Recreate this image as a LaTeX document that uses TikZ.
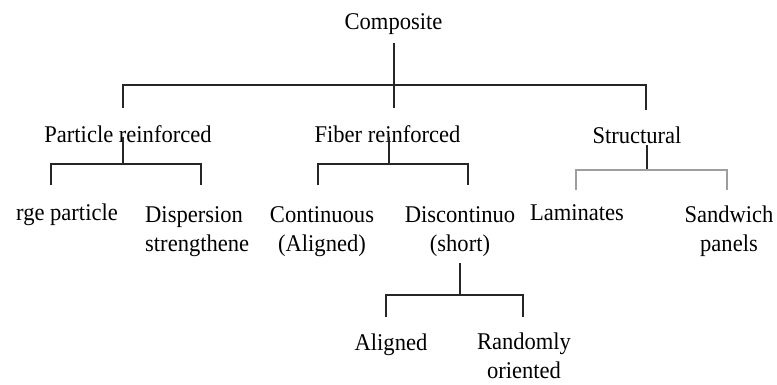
\documentclass[tikz,border=0pt]{standalone}
\usepackage{fontspec}
\setmainfont{Liberation Serif}[FakeStretch=0.94]
\begin{document}
\begin{tikzpicture}[x=1pt,y=-1pt]
\tikzset{
  lbl/.style={inner sep=0pt, anchor=base, font=\fontsize{24}{29}\selectfont, text=black},
  tree/.style={line width=1.8pt, draw=black!85},
  treegray/.style={line width=2.2pt, draw=black!38},
}
\clip (0,0) rectangle (777,384);
\fill[white] (0,0) rectangle (777,384);

% nodes (multi-line nodes are placed by the baseline of their last line)
\node[lbl] (comp) at (393.5,29) {Composite};
\node[lbl] (part) at (128,142) {Particle reinforced};
\node[lbl] (fiber) at (387.5,142) {Fiber reinforced};
\node[lbl] (struct) at (637,143) {Structural};
\node[lbl] (large) at (67,220) {rge particle};
\node[lbl, anchor=base west, align=left] (disp) at (145,251) {Dispersion\\strengthene};
\node[lbl, align=center] (cont) at (322,251) {Continuous\\(Aligned)};
\node[lbl, align=center] (disc) at (460,251) {Discontinuo\\(short)};
\node[lbl] (lam) at (577,220) {Laminates};
\node[lbl, align=center] (sand) at (729,251) {Sandwich\\panels};
\node[lbl] (ali) at (391,350) {Aligned};
\node[lbl, align=center] (rand) at (524,378) {Randomly\\oriented};

% connector coordinates
\coordinate (comp-s) at (394,43);
\coordinate (comp-j) at (394,85);
\coordinate (part-n) at (123,108);
\coordinate (fiber-n) at (394,108);
\coordinate (struct-n) at (646,110);

\coordinate (part-s) at (123,137);
\coordinate (part-j) at (123,164);
\coordinate (large-n) at (51,185);
\coordinate (disp-n) at (201,185);

\coordinate (fiber-s) at (389,137);
\coordinate (fiber-j) at (389,164);
\coordinate (cont-n) at (318,185);
\coordinate (disc-n) at (468,185);

\coordinate (struct-s) at (647,145);
\coordinate (struct-j) at (647,170);
\coordinate (lam-n) at (576,190);
\coordinate (sand-n) at (727,190);

\coordinate (disc-s) at (460,263);
\coordinate (disc-j) at (460,295);
\coordinate (ali-n) at (386,317);
\coordinate (rand-n) at (523,317);

% connectors
\draw[tree] (comp-s) -- (fiber-n);
\draw[tree] (part-n) -- (part-n |- comp-j) -- (struct-n |- comp-j) -- (struct-n);

\draw[tree] (part-s) -- (part-j);
\draw[tree] (large-n) -- (large-n |- part-j) -- (disp-n |- part-j) -- (disp-n);

\draw[tree] (fiber-s) -- (fiber-j);
\draw[tree] (cont-n) -- (cont-n |- fiber-j) -- (disc-n |- fiber-j) -- (disc-n);

\draw[tree] (struct-s) -- (struct-j);
\draw[treegray] (lam-n) -- (lam-n |- struct-j) -- (sand-n |- struct-j) -- (sand-n);

\draw[tree] (disc-s) -- (disc-j);
\draw[tree] (ali-n) -- (ali-n |- disc-j) -- (rand-n |- disc-j) -- (rand-n);
\end{tikzpicture}
\end{document}
